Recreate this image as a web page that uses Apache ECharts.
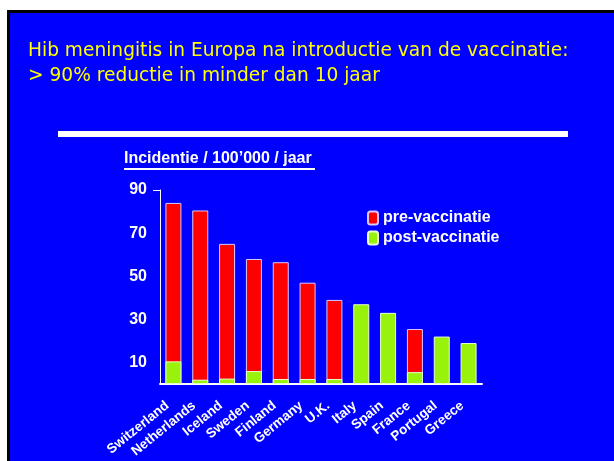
<!DOCTYPE html>
<html>
<head>
<meta charset="utf-8">
<script src="https://cdn.jsdelivr.net/npm/echarts@6/dist/echarts.min.js"></script>
<style>
  html, body { margin: 0; padding: 0; background: #0000ff; overflow: hidden; }
  #chart { width: 614px; height: 461px; }
</style>
</head>
<body>
<div id="chart"></div>
<script>
// Hib meningitis incidence per 100'000 per year
var countries = ['Switzerland', 'Netherlands', 'Iceland', 'Sweden', 'Finland', 'Germany',
    'U.K.', 'Italy', 'Spain', 'France', 'Portugal', 'Greece'];
var preVaccination = [84, 80.5, 65, 58, 56.5, 47, 39, null, null, 25.5, null, null];
var postVaccination = [10.5, 2, 2.5, 6, 2.3, 2.3, 2.3, 37, 33, 5.5, 22, 19];
var yLabels = [10, 30, 50, 70, 90];

var dom = document.getElementById('chart');
var myChart = echarts.init(dom);

var white = '#ffffff';
var font = 'Liberation Sans, Arial, sans-serif';

var option = {
    backgroundColor: '#0000ff',
    animation: false,
    graphic: [
        // slide frame: white margin top/left, black edge
        { type: 'rect', shape: { x: 0, y: 0, width: 614, height: 10 }, style: { fill: white }, z: -10 },
        { type: 'rect', shape: { x: 0, y: 0, width: 7, height: 461 }, style: { fill: white }, z: -10 },
        { type: 'rect', shape: { x: 7, y: 10, width: 607, height: 3 }, style: { fill: '#000' }, z: -10 },
        { type: 'rect', shape: { x: 7, y: 10, width: 3, height: 451 }, style: { fill: '#000' }, z: -10 },
        {
            type: 'text', x: 28, y: 39,
            style: {
                text: 'Hib meningitis in Europa na introductie van de vaccinatie:\n> 90% reductie in minder dan 10 jaar',
                fill: '#ffff00', font: '18.6px "DejaVu Sans", sans-serif', lineHeight: 25
            }
        },
        { type: 'rect', shape: { x: 58, y: 131, width: 510, height: 6 }, style: { fill: white } },
        {
            type: 'text', x: 124, y: 151,
            style: { text: 'Incidentie / 100’000 / jaar', fill: white, font: 'bold 16px ' + font }
        },
        { type: 'rect', shape: { x: 124, y: 168, width: 191, height: 2 }, style: { fill: white } }
    ],
    legend: {
        left: 367,
        top: 210,
        padding: 0,
        orient: 'vertical',
        itemWidth: 10,
        itemHeight: 13,
        itemGap: 4,
        textStyle: { color: white, fontSize: 16, fontWeight: 'bold', fontFamily: font },
        data: ['pre-vaccinatie', 'post-vaccinatie']
    },
    grid: { left: 160, top: 190, width: 322, height: 194, containLabel: false },
    xAxis: {
        type: 'category',
        data: countries,
        axisLine: { lineStyle: { color: white, width: 2 } },
        axisTick: { show: false },
        axisLabel: {
            color: white, fontWeight: 'bold', fontSize: 13.5, fontFamily: font,
            rotate: 39, interval: 0, margin: 15, padding: [0, 8, 0, 0]
        }
    },
    yAxis: {
        type: 'value',
        min: 0,
        max: 90,
        interval: 10,
        splitLine: { show: false },
        axisLine: { show: true, lineStyle: { color: white, width: 1 } },
        axisTick: { show: true, customValues: [90], length: 7, lineStyle: { color: white } },
        axisLabel: {
            customValues: yLabels,
            color: white, fontWeight: 'bold', fontSize: 16, fontFamily: font, margin: 13
        }
    },
    series: [
        {
            name: 'pre-vaccinatie',
            type: 'bar',
            data: preVaccination,
            barWidth: 16,
            barGap: '-100%',
            itemStyle: { color: '#ff0000', borderColor: '#d8c8ff', borderWidth: 1 }
        },
        {
            name: 'post-vaccinatie',
            type: 'bar',
            data: postVaccination,
            barWidth: 16,
            itemStyle: { color: '#99f20a', borderColor: '#e8ffd0', borderWidth: 1 }
        }
    ]
};

if (option && typeof option === 'object') {
    myChart.setOption(option);
}
window.addEventListener('resize', myChart.resize);
</script>
</body>
</html>
